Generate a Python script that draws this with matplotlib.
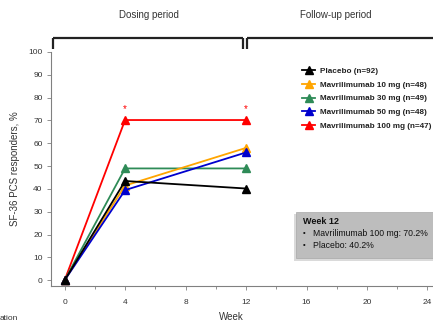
import matplotlib
matplotlib.use("Agg")
import matplotlib.pyplot as plt
from matplotlib.lines import Line2D
from matplotlib.patches import Rectangle

plt.rcParams['font.family'] = ['Liberation Sans', 'DejaVu Sans']

weeks = [0, 4, 12]
series_names = ["Placebo (n=92)", "Mavrilimumab 10 mg (n=48)", "Mavrilimumab 30 mg (n=49)",
                "Mavrilimumab 50 mg (n=48)", "Mavrilimumab 100 mg (n=47)"]
placebo = [0, 43.5, 40.2]
mav10 = [0, 41.5, 58.0]
mav30 = [0, 49.0, 49.0]
mav50 = [0, 39.5, 56.0]
mav100 = [0, 70.2, 70.2]
colors = ["#000000", "#FFA500", "#2E8B57", "#0000CD", "#FF0000"]
star_weeks = [4, 12]
xticks = [0, 4, 8, 12, 16, 20, 24]
yticks = list(range(0, 101, 10))

W, H = 433, 326
fig = plt.figure(figsize=(W/100, H/100), dpi=100)
left, right, bottom, top = 51, 432, 286, 52
ax = fig.add_axes([left/W, (H-bottom)/H, (right-left)/W, (bottom-top)/H])

draw_order = [4, 2, 1, 3, 0]
all_series = [placebo, mav10, mav30, mav50, mav100]
handles = [None]*5
for i in draw_order:
    h, = ax.plot(weeks, all_series[i], color=colors[i], lw=1.3, marker='^', ms=5.5,
                 markeredgecolor=colors[i], label=series_names[i], zorder=3 + (1 if i == 0 else 0))
    handles[i] = h

for w in star_weeks:
    ax.text(w, 73, "*", color="#FF0000", ha='center', va='bottom', fontsize=7)

ax.set_xlim(-0.9, 24.3)
ax.set_ylim(-2.5, 100)
ax.set_xticks(xticks)
ax.set_xticks(range(2, 24, 4), minor=True)
ax.set_yticks(yticks)
for s in ['top', 'right']:
    ax.spines[s].set_visible(False)
for s in ['left', 'bottom']:
    ax.spines[s].set_color('#808080')
    ax.spines[s].set_linewidth(0.8)
ax.tick_params(axis='both', which='both', colors='#808080', labelcolor='#333333', labelsize=6, width=0.6)
ax.tick_params(axis='x', which='major', length=3, pad=6)
ax.tick_params(axis='x', which='minor', length=2)
ax.tick_params(axis='y', length=3, pad=3)

ax.set_ylabel("SF-36 PCS responders, %", fontsize=7, color='#333333', labelpad=6)
fig.text(231/W, 1-317/H, "Week", ha='center', va='center', fontsize=7, color='#333333')

leg = ax.legend(handles=handles, loc='upper left', bbox_to_anchor=((295-left)/(right-left), 1-(60-top)/(bottom-top)),
                frameon=False, handlelength=1.6, handletextpad=0.6, labelspacing=0.72,
                prop={'weight': 'bold', 'size': 5.9})
for t in leg.get_texts():
    t.set_color('#222222')

# brackets
def fl(x0, y0, x1, y1, lw=1.6, color='#222222'):
    fig.add_artist(Line2D([x0/W, x1/W], [1-y0/H, 1-y1/H], lw=lw, color=color, solid_capstyle='butt'))

fl(53, 38, 243, 38)
fl(53, 37.5, 53, 49)
fl(243, 37.5, 243, 49)
fl(247, 38, 433, 38)
fl(247, 37.5, 247, 49)
fig.text(149/W, 1-15/H, "Dosing period", ha='center', va='center', fontsize=7, color='#333333')
fig.text(336/W, 1-15/H, "Follow-up period", ha='center', va='center', fontsize=7, color='#333333')

# week 12 box with shadow
fig.add_artist(Rectangle((294/W, 1-261/H), 140/W, 47/H, transform=fig.transFigure,
                         facecolor='#DADADA', edgecolor='none', zorder=5))
fig.add_artist(Rectangle((296/W, 1-258/H), 140/W, 46/H, transform=fig.transFigure,
                         facecolor='#BDBDBD', edgecolor='#A8A8A8', lw=0.5, zorder=6))
fig.text(303/W, 1-222/H, "Week 12", fontsize=6.5, fontweight='bold', color='#111111', va='center', zorder=7)
fig.text(303/W, 1-234/H, "•", fontsize=5.5, color='#111111', va='center', zorder=7)
fig.text(313/W, 1-234/H, "Mavrilimumab 100 mg: 70.2%", fontsize=6.2, color='#111111', va='center', zorder=7)
fig.text(303/W, 1-245/H, "•", fontsize=5.5, color='#111111', va='center', zorder=7)
fig.text(313/W, 1-245/H, "Placebo: 40.2%", fontsize=6.2, color='#111111', va='center', zorder=7)

fig.text(0/W, 1-319/H, "ation", fontsize=6, color='#333333', va='center', ha='left')

fig.savefig("out.png", dpi=100)
